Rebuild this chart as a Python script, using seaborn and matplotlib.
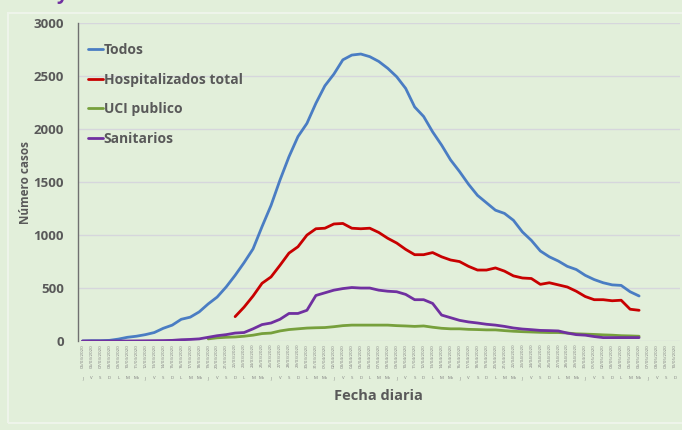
import matplotlib

matplotlib.use("Agg")

import matplotlib.pyplot as plt
import matplotlib.transforms as mtransforms
import numpy as np
import pandas as pd
import seaborn as sns
from matplotlib.patches import Rectangle

# categories: one per day, 05/03/2020 .. 10/05/2020
dates = pd.date_range("2020-03-05", "2020-05-10", freq="D")
date_labels = [d.strftime("%d/%m/%Y") for d in dates]
weekday_letters = ["L", "M", "Mx", "J", "V", "S", "D"]
day_labels = [weekday_letters[d.dayofweek] for d in dates]

todos = [0, 3, 3, 6, 18, 35, 45, 60, 80, 120, 150, 205, 225, 275, 350, 415, 510,
         620, 740, 870, 1080, 1280, 1520, 1740, 1930, 2055, 2245, 2410, 2520, 2655,
         2700, 2710, 2685, 2640, 2575, 2495, 2385, 2210, 2120, 1975, 1850, 1710,
         1600, 1480, 1375, 1305, 1235, 1205, 1140, 1030, 950, 850, 795, 755, 705,
         675, 620, 580, 550, 530, 525, 465, 425]
todos_start = "2020-03-05"

hospitalizados = [230, 320, 425, 545, 605, 715, 830, 890, 1000, 1060, 1065, 1105,
                  1110, 1065, 1060, 1065, 1025, 970, 925, 865, 815, 815, 835, 795,
                  765, 750, 705, 670, 670, 690, 660, 615, 595, 590, 535, 550, 530,
                  510, 470, 420, 390, 390, 380, 385, 300, 290]
hospitalizados_start = "2020-03-22"

uci = [20, 30, 35, 38, 45, 55, 70, 75, 95, 108, 115, 122, 125, 127, 135, 145, 150,
       150, 150, 150, 150, 145, 142, 138, 142, 130, 120, 115, 115, 110, 108, 105,
       105, 98, 92, 88, 85, 82, 80, 80, 75, 68, 65, 62, 58, 55, 50, 48, 45]
uci_start = "2020-03-19"

sanitarios = [0, 0, 0, 0, 0, 0, 1, 2, 3, 4, 6, 12, 15, 20, 35, 50, 60, 75, 80, 115,
              155, 170, 205, 260, 260, 290, 430, 455, 480, 495, 505, 500, 500, 480,
              470, 465, 440, 390, 390, 355, 245, 220, 195, 180, 170, 158, 150, 138,
              123, 113, 107, 100, 98, 95, 75, 60, 55, 42, 32, 32, 32, 32, 32]
sanitarios_start = "2020-03-05"

series = [
    ("Todos", todos, todos_start, "#4A7DC3"),
    ("Hospitalizados total", hospitalizados, hospitalizados_start, "#C80000"),
    ("UCI publico", uci, uci_start, "#77A03C"),
    ("Sanitarios", sanitarios, sanitarios_start, "#7030A0"),
]

rows = []
for name, values, start, _ in series:
    first = dates.get_loc(pd.Timestamp(start))
    for k, v in enumerate(values):
        rows.append({"idx": first + k, "casos": v, "serie": name})
df = pd.DataFrame(rows)
palette = {name: color for name, _, _, color in series}

BG = "#E2EFDA"
TEXT = "#595959"

sns.set_theme(style="white")
plt.rcParams["font.family"] = ["Open Sans", "DejaVu Sans"]

fig = plt.figure(figsize=(6.82, 4.30), dpi=100, facecolor=BG)
fig.patches.append(Rectangle((8 / 682, 1 - 423 / 430), 1, (423 - 13) / 430,
                             transform=fig.transFigure, facecolor="none",
                             edgecolor="#EEF4EA", linewidth=1.5))
# heading above the chart, cut off by the top edge (only the descender shows)
fig.text(62 / 682, 1 + 1 / 430, "y", color="#7030A0", fontsize=14,
         fontweight="bold", ha="center", va="baseline")

ax = fig.add_axes([78 / 682, 1 - 341 / 430, (679.5 - 78) / 682, (341 - 23.3) / 430])
ax.set_facecolor(BG)

sns.lineplot(data=df, x="idx", y="casos", hue="serie", palette=palette,
             hue_order=[s[0] for s in series], linewidth=2, ax=ax)

ax.set_xlim(-0.5, len(dates) - 0.5)
ax.set_ylim(0, 3000)
ax.set_yticks(np.arange(0, 3001, 500))
ax.yaxis.grid(True, color="#D6D6DC", linewidth=1)
ax.set_axisbelow(True)
for side in ["top", "right", "bottom"]:
    ax.spines[side].set_visible(False)
ax.spines["left"].set_color("#707070")
ax.spines["left"].set_linewidth(1)

ax.tick_params(axis="y", length=0, pad=10, labelsize=9.5, labelcolor=TEXT)
for lab in ax.get_yticklabels():
    lab.set_fontweight("bold")

ax.set_xticks(range(len(dates)))
ax.set_xticklabels(date_labels, rotation=90, fontsize=3.2, color="#7F7F7F")
ax.tick_params(axis="x", length=0, pad=2)
ax.set_xticks(np.arange(-0.5, len(dates), 1), minor=True)
ax.tick_params(axis="x", which="minor", length=31, width=0.6, color="#D0D0D0",
               direction="out")

trans = mtransforms.blended_transform_factory(ax.transData, ax.transAxes)
for i, d in enumerate(day_labels):
    ax.text(i, -0.118, d, transform=trans, ha="center", va="center",
            fontsize=3.2, color="#7F7F7F")

ax.set_xlabel("Fecha diaria", fontsize=10.5, fontweight="bold", color=TEXT,
              labelpad=0)
ax.set_ylabel("Número casos", fontsize=8.5, fontweight="bold", color=TEXT,
              labelpad=1)

leg = ax.legend(loc="upper left", bbox_to_anchor=(0.007, 0.955), frameon=False,
                handlelength=1.1, handletextpad=0.05, labelspacing=1.12,
                fontsize=10, borderaxespad=0)
for t in leg.get_texts():
    t.set_fontweight("bold")
    t.set_color(TEXT)

fig.savefig("out.png", dpi=100, facecolor=BG)
